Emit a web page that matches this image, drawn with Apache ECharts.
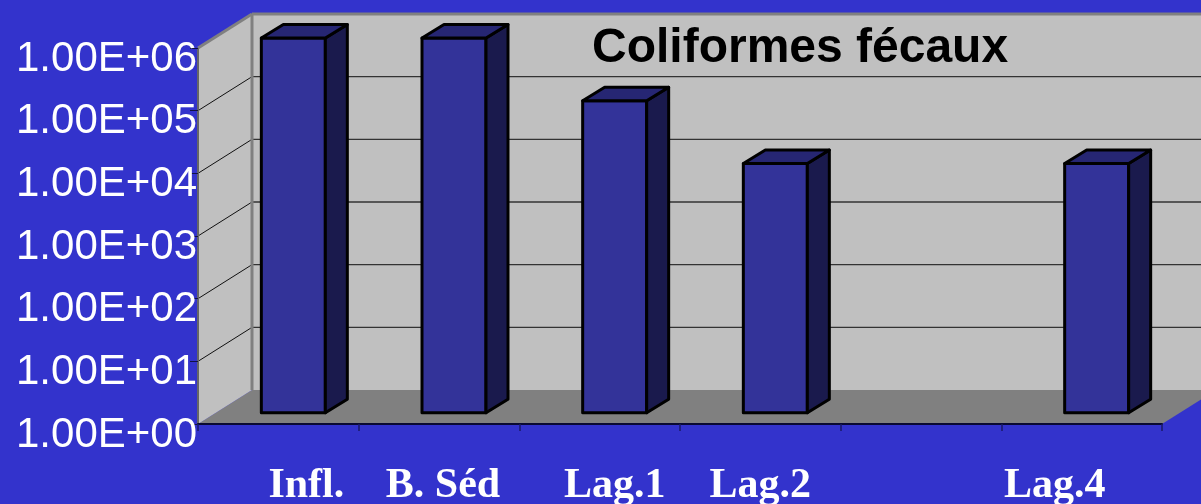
<!DOCTYPE html>
<html>
<head>
<meta charset="utf-8">
<style>html,body{margin:0;padding:0;background:#3333CC}#chart{width:1201px;height:504px}</style>
<script src="https://cdn.jsdelivr.net/npm/echarts@6/dist/echarts.min.js"></script>
</head>
<body>
<div id="chart"></div>
<script>
// Fecal coliform counts per treatment stage, on a log scale
const stages = ['Infl.', 'B. Séd', 'Lag.1', 'Lag.2', '', 'Lag.4'];
const coliforms = [950000, 950000, 95000, 9500, null, 9500];
const tickValues = [1, 10, 100, 1000, 10000, 100000, 1000000];
const tickLabels = ['1.00E+00', '1.00E+01', '1.00E+02', '1.00E+03', '1.00E+04', '1.00E+05', '1.00E+06'];
const chartTitle = 'Coliformes fécaux';

// Pseudo-3D box geometry, in pixels
const WALL_DX = 54, WALL_DY = -34;
const BAR_SHIFT_X = 15, BAR_SHIFT_Y = -11.3, BAR_WIDTH = 64, BAR_DX = 22, BAR_DY = -13.5;
// Horizontal nudge of each category label from its slot centre
const labelNudge = [28, 4, 15, 0, 0, -27];

const poly = (points, fill, stroke, lineWidth) => ({
  type: 'polygon',
  shape: { points },
  style: { fill, stroke: stroke || 'none', lineWidth: lineWidth || 0, lineJoin: 'round' }
});
const line = (a, b, stroke, lineWidth) => ({
  type: 'line',
  shape: { x1: a[0], y1: a[1], x2: b[0], y2: b[1] },
  style: { stroke, lineWidth }
});

function renderRoom(params, api) {
  const c = params.coordSys;
  const l = c.x, r = c.x + c.width, t = c.y, b = c.y + c.height;
  const dx = WALL_DX, dy = WALL_DY;
  const children = [
    poly([[l, b], [l + dx, b + dy], [r + dx, b + dy], [r, b]], '#808080'),
    poly([[l + dx, t + dy], [r + dx, t + dy], [r + dx, b + dy], [l + dx, b + dy]], '#C0C0C0'),
    poly([[l, t], [l + dx, t + dy], [l + dx, b + dy], [l, b]], '#C0C0C0')
  ];
  tickValues.slice(1, -1).forEach(v => {
    const y = api.coord([0, v])[1];
    children.push(line([l, y], [l + dx, y + dy], '#111111', 1));
    children.push(line([l + dx, y + dy], [r + dx, y + dy], '#333333', 1.4));
  });
  children.push(line([l, t], [l + dx, t + dy], '#808080', 3));
  children.push(line([l + dx, t + dy], [r + dx, t + dy], '#808080', 3));
  children.push(line([l + dx, t + dy], [l + dx, b + dy], '#808080', 3));
  children.push(line([l, t], [l, b], '#666666', 2));
  return { type: 'group', children };
}

function renderBar(params, api) {
  const i = api.value(0);
  const top = api.coord([i, api.value(1)]);
  const base = api.coord([i, 1]);
  const x0 = top[0] + BAR_SHIFT_X - BAR_WIDTH / 2;
  const x1 = x0 + BAR_WIDTH;
  const yT = top[1] + BAR_SHIFT_Y;
  const yB = base[1] + BAR_SHIFT_Y;
  const ddx = BAR_DX, ddy = BAR_DY;
  const edge = { stroke: '#000000', lineWidth: 3 };
  return {
    type: 'group',
    children: [
      poly([[x0, yB], [x1, yB], [x1, yT], [x0, yT]], '#333399', edge.stroke, edge.lineWidth),
      poly([[x1, yB], [x1 + ddx, yB + ddy], [x1 + ddx, yT + ddy], [x1, yT]], '#1A1A4D', edge.stroke, edge.lineWidth),
      poly([[x0, yT], [x1, yT], [x1 + ddx, yT + ddy], [x0 + ddx, yT + ddy]], '#262673', edge.stroke, edge.lineWidth)
    ]
  };
}

// One rich style per category so each label can sit off its slot centre
const labelRich = {};
labelNudge.forEach((n, i) => {
  labelRich['c' + i] = {
    fontFamily: '"Liberation Serif"', fontWeight: 'bold', fontSize: 42, color: '#FFFFFF',
    padding: n >= 0 ? [0, 0, 0, 2 * n] : [0, -2 * n, 0, 0]
  };
});

const chart = echarts.init(document.getElementById('chart'), null, { renderer: 'canvas' });
chart.setOption({
  animation: false,
  backgroundColor: '#3333CC',
  title: {
    text: chartTitle, left: 587, top: 20,
    textStyle: { fontFamily: '"Liberation Sans"', fontWeight: 'bold', fontSize: 48, color: '#000000' },
    z: 20
  },
  grid: { left: 198, right: 39, top: 48, bottom: 80, containLabel: false, outerBoundsMode: 'none' },
  xAxis: {
    type: 'category',
    data: stages,
    z: 10,
    axisLine: { lineStyle: { color: '#0A0A33', width: 2 } },
    axisTick: { show: true, length: 7, lineStyle: { color: '#1A1A66', width: 1.5 } },
    axisLabel: {
      interval: 0, margin: 41, hideOverlap: false,
      formatter: (value, idx) => value ? '{c' + idx + '|' + value + '}' : '',
      rich: labelRich
    }
  },
  yAxis: {
    type: 'log',
    logBase: 10,
    min: tickValues[0],
    max: tickValues[tickValues.length - 1],
    z: 10,
    axisLine: { show: false },
    axisTick: { show: true, length: 8, lineStyle: { color: '#111144', width: 1 } },
    splitLine: { show: false },
    minorTick: { show: false },
    axisLabel: {
      margin: 1,
      verticalAlign: 'top',
      lineHeight: 22,
      fontFamily: '"Liberation Sans"', fontSize: 42, color: '#FFFFFF',
      formatter: v => tickLabels[Math.round(Math.log10(v))]
    }
  },
  series: [
    { type: 'custom', z: 1, silent: true, clip: false, data: [[0, 1]], renderItem: renderRoom },
    {
      type: 'custom', z: 2, silent: true, clip: false,
      data: coliforms.map((v, i) => [i, v]).filter(d => d[1] !== null),
      encode: { x: 0, y: 1 },
      renderItem: renderBar
    }
  ]
});
</script>
</body>
</html>
